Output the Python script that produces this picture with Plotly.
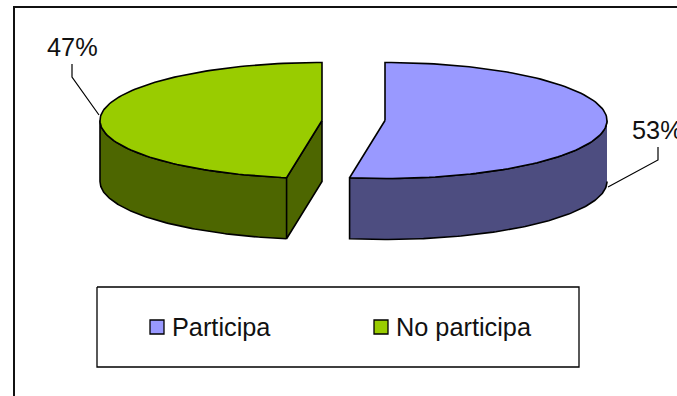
import numpy as np
import plotly.graph_objects as go

categories = ["Participa", "No participa"]
values = [52.55, 47.45]
top_colors = ["#9999FF", "#99CC00"]
side_colors = ["#4D4D80", "#4D6600"]

# pie geometry (pixels of the figure)
A, B, DEPTH, CY = 222, 58, 61, 120.5
CX_RIGHT, CX_LEFT = 385, 322

split = values[0] / sum(values) * 360


def rim(cx, a0, a1, n=120, dy=0):
    t = np.radians(np.linspace(a0, a1, n))
    return cx + A * np.sin(t), CY - B * np.cos(t) + dy


def poly(fig, xs, ys, color, width=1.6):
    fig.add_trace(go.Scatter(
        x=list(xs), y=list(ys), mode="lines", fill="toself", fillcolor=color,
        line=dict(color="#000000", width=width), hoverinfo="skip", showlegend=False))


def line(fig, xs, ys, width=1.3, color="#000000"):
    fig.add_trace(go.Scatter(
        x=xs, y=ys, mode="lines", line=dict(color=color, width=width),
        hoverinfo="skip", showlegend=False))


fig = go.Figure()

# outer frame
line(fig, [677, 14, 14], [7, 7, 396], width=2, color="#111111")

# left slice: No participa
x1, y1 = rim(CX_LEFT, split, 270)
poly(fig, np.r_[x1, x1[::-1]], np.r_[y1, y1[::-1] + DEPTH], side_colors[1])
xe, ye = rim(CX_LEFT, split, split, 1)
poly(fig, [CX_LEFT, xe[0], xe[0], CX_LEFT, CX_LEFT],
     [CY, ye[0], ye[0] + DEPTH, CY + DEPTH, CY], side_colors[1])
xt, yt = rim(CX_LEFT, split, 360)
poly(fig, np.r_[CX_LEFT, xt, CX_LEFT], np.r_[CY, yt, CY], top_colors[1])

# right slice: Participa
x2, y2 = rim(CX_RIGHT, 90, split)
poly(fig, np.r_[x2, x2[::-1]], np.r_[y2, y2[::-1] + DEPTH], side_colors[0])
xt, yt = rim(CX_RIGHT, 0, split)
poly(fig, np.r_[CX_RIGHT, xt, CX_RIGHT], np.r_[CY, yt, CY], top_colors[0])

# leader lines
line(fig, [72, 72, 99], [64, 77, 115], width=1.2)
line(fig, [658, 658, 608], [147, 160, 187], width=1.2)

# legend box
line(fig, [97, 579, 579, 97, 97], [287, 287, 367, 367, 287], width=1.3)

swatch_x = [157, 381]
text_x = [170, 394]
for cat, col, sx in zip(categories, top_colors, swatch_x):
    fig.add_trace(go.Scatter(
        x=[sx], y=[327], mode="markers", hoverinfo="skip", showlegend=False,
        marker=dict(symbol="square", size=14, color=col, line=dict(color="#000000", width=1.3))))

FONT = dict(family="Liberation Sans, Arial, sans-serif", size=25.3, color="#111111")
annots = []
for cat, tx in zip(categories, text_x):
    annots.append(dict(x=tx, y=327, text=cat, showarrow=False, xanchor="left",
                       yanchor="middle", font=FONT, xref="x", yref="y"))
total = sum(values)
annots.append(dict(x=630, y=130, text=f"{values[0] / total * 100:.0f}%", showarrow=False,
                   xanchor="left", yanchor="middle", font=FONT, xref="x", yref="y"))
annots.append(dict(x=45, y=47, text=f"{values[1] / total * 100:.0f}%", showarrow=False,
                   xanchor="left", yanchor="middle", font=FONT, xref="x", yref="y"))

fig.update_layout(
    width=677, height=396, margin=dict(l=0, r=0, t=0, b=0),
    paper_bgcolor="#ffffff", plot_bgcolor="#ffffff", showlegend=False,
    xaxis=dict(range=[0, 677], visible=False, fixedrange=True),
    yaxis=dict(range=[396, 0], visible=False, fixedrange=True),
    annotations=annots,
)
fig.write_html("out.html", config={"displayModeBar": False},
               post_script="document.body.style.margin='0';document.body.style.overflow='hidden';")
